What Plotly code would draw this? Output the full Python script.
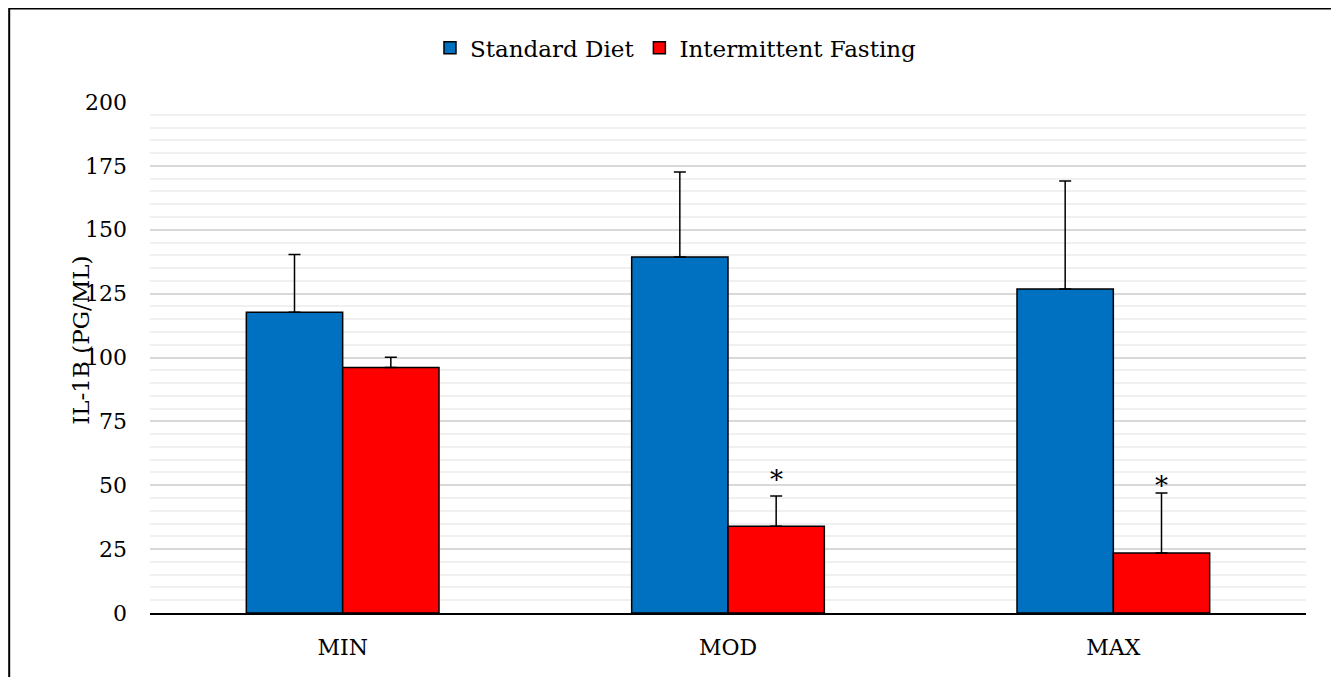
import plotly.graph_objects as go

categories = ["MIN", "MOD", "MAX"]
standard_diet = [117.7, 139.3, 126.8]
standard_diet_err = [22.6, 33.3, 42.3]
fasting = [96.1, 34.0, 23.5]
fasting_err = [4.0, 11.8, 23.5]
sig_marks = ["", "*", "*"]
sig_y = [None, 53.0, 50.5]

FONT = "DejaVu Serif"

fig = go.Figure()
fig.add_trace(go.Bar(
    name="Standard Diet", x=categories, y=standard_diet,
    marker=dict(color="#0070C0", line=dict(color="black", width=1.5)),
    error_y=dict(type="data", symmetric=False, array=standard_diet_err,
                 arrayminus=[0] * 3, color="black", thickness=1.5, width=6),
))
fig.add_trace(go.Bar(
    name="Intermittent Fasting", x=categories, y=fasting,
    marker=dict(color="#FF0000", line=dict(color="black", width=1.5)),
    error_y=dict(type="data", symmetric=False, array=fasting_err,
                 arrayminus=[0] * 3, color="black", thickness=1.5, width=6),
))

for c, m, yv in zip(categories, sig_marks, sig_y):
    if m:
        fig.add_annotation(x=c, y=yv, xref="x", yref="y", text=m, showarrow=False,
                           xshift=48, yshift=-2, yanchor="middle",
                           font=dict(family=FONT, size=26, color="black"))

fig.add_annotation(text="IL-1B (PG/ML)", xref="paper", yref="paper",
                   x=-0.06, y=0.534, textangle=-90, showarrow=False,
                   xanchor="center", yanchor="middle",
                   font=dict(family=FONT, size=23, color="black"))

fig.add_shape(type="rect", xref="paper", yref="paper",
              x0=-0.1218, x1=1.0251, y0=-0.2, y1=1.183,
              line=dict(color="black", width=2), fillcolor="rgba(0,0,0,0)", layer="above")

fig.update_layout(
    width=1331, height=669,
    margin=dict(l=142, r=33, t=94, b=64, autoexpand=False),
    paper_bgcolor="white", plot_bgcolor="white",
    barmode="group", bargap=0.5, bargroupgap=0,
    font=dict(family=FONT, size=22, color="black"),
    showlegend=True,
    legend=dict(orientation="h", x=0.455, xanchor="center", y=1.106, yanchor="middle",
                font=dict(family=FONT, size=23, color="black"), bgcolor="rgba(0,0,0,0)"),
    xaxis=dict(showline=True, linecolor="black", linewidth=1.5, showgrid=False,
               ticks="", ticklabelstandoff=14,
               tickfont=dict(family=FONT, size=22, color="black")),
    yaxis=dict(range=[0, 200], dtick=25, tick0=0, showgrid=True, gridcolor="#d9d9d9",
               gridwidth=1.5, zeroline=False, showline=False, ticks="",
               ticklabelstandoff=22,
               tickfont=dict(family=FONT, size=22, color="black"),
               minor=dict(dtick=5, showgrid=True, gridcolor="#f0f0f0", gridwidth=1.5)),
)

fig.write_html("out.html")
